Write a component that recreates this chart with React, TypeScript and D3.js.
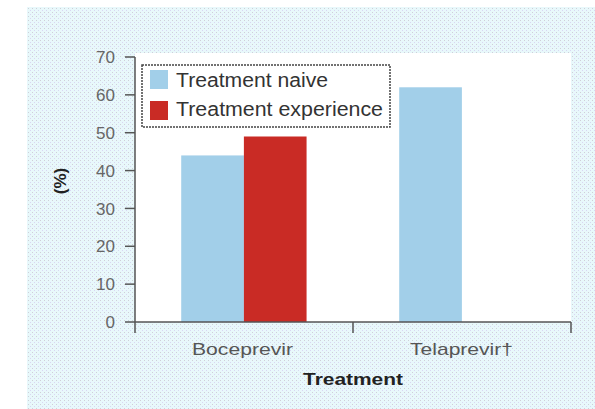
import React from "react";
import * as d3 from "d3";

const categories = ["Boceprevir", "Telaprevir\u2020"];
const seriesNames = ["Treatment naive", "Treatment experience"];
const naiveValues = [44, 62];
const experienceValues: (number | null)[] = [49, null];
const yTicks = [0, 10, 20, 30, 40, 50, 60, 70];
const colors = ["#a2cfe9", "#c92b25"];

const W = 595;
const H = 409;
const plotLeft = 135;
const plotRight = 571;
const plotTop = 53;
const plotBottom = 322;

export default function App() {
  const x0 = d3.scaleBand<string>().domain(categories).range([plotLeft, plotRight]).padding(0);
  const bw = x0.bandwidth();
  const x1 = d3
    .scaleBand<string>()
    .domain(seriesNames)
    .range([bw * 0.212, bw * 0.787])
    .padding(0);
  const y = d3.scaleLinear().domain([0, 70]).range([plotBottom, 57]);

  const seriesData = [naiveValues, experienceValues];

  const bars: React.ReactNode[] = [];
  categories.forEach((c, ci) => {
    seriesNames.forEach((s, si) => {
      const v = seriesData[si][ci];
      if (v == null) return;
      bars.push(
        <rect
          key={c + s}
          x={(x0(c) as number) + (x1(s) as number)}
          y={y(v)}
          width={x1.bandwidth()}
          height={y(0) - y(v)}
          fill={colors[si]}
        />
      );
    });
  });

  const xTickPositions = [plotLeft, (x0(categories[1]) as number), plotRight];

  return (
    <svg
      width={W}
      height={H}
      style={{ position: "absolute", left: 0, top: 0 }}
      fontFamily="'Liberation Sans', Arial, sans-serif"
    >
      <defs>
        <pattern id="bgpat" width="4" height="4" patternUnits="userSpaceOnUse">
          <rect width="4" height="4" fill="#e8f8fb" />
          <rect x="0" y="0" width="1" height="1" fill="#cfd0d8" />
          <rect x="2" y="2" width="1" height="1" fill="#d9d6f3" />
        </pattern>
      </defs>
      <rect x={0} y={0} width={W} height={H} fill="#fff" />
      <rect x={27} y={7} width={W - 27} height={H - 7} fill="url(#bgpat)" />
      <rect x={plotLeft} y={plotTop} width={plotRight - plotLeft} height={plotBottom - plotTop} fill="#fff" />

      {bars}

      {/* y axis */}
      <line x1={plotLeft} x2={plotLeft} y1={y(70)} y2={plotBottom} stroke="#555" strokeWidth={1.5} />
      {yTicks.map((t) => (
        <g key={t}>
          <line x1={plotLeft - 10} x2={plotLeft} y1={y(t)} y2={y(t)} stroke="#555" strokeWidth={1.5} />
          <text x={115} y={y(t)} dy="0.36em" textAnchor="end" fontSize={17} fill="#666">
            {t}
          </text>
        </g>
      ))}

      {/* x axis */}
      <line x1={plotLeft} x2={plotRight} y1={plotBottom} y2={plotBottom} stroke="#555" strokeWidth={1.5} />
      {xTickPositions.map((px, i) => (
        <line key={i} x1={px} x2={px} y1={plotBottom} y2={plotBottom + 11} stroke="#555" strokeWidth={1.5} />
      ))}
      <text x={192} y={355} fontSize={17} fill="#555" textLength={101} lengthAdjust="spacingAndGlyphs">
        {categories[0]}
      </text>
      <text x={410} y={355} fontSize={17} fill="#555" textLength={103} lengthAdjust="spacingAndGlyphs">
        {categories[1]}
      </text>
      <text x={303} y={385} fontSize={17} fontWeight="bold" fill="#222" textLength={100} lengthAdjust="spacingAndGlyphs">
        Treatment
      </text>
      <text
        transform="translate(66,181) rotate(-90)"
        textAnchor="middle"
        fontSize={17}
        fontWeight="bold"
        fill="#222"
      >
        (%)
      </text>

      {/* legend */}
      <rect x={142} y={65} width={248} height={62} fill="#fff" stroke="#444" strokeWidth={1.5} strokeDasharray="2,1" />
      <rect x={150} y={70} width={18} height={19} fill={colors[0]} />
      <rect x={150} y={101} width={18} height={19} fill={colors[1]} />
      <text x={176} y={87} fontSize={20} fill="#333" textLength={152} lengthAdjust="spacingAndGlyphs">
        {seriesNames[0]}
      </text>
      <text x={176} y={116} fontSize={20} fill="#333" textLength={207} lengthAdjust="spacingAndGlyphs">
        {seriesNames[1]}
      </text>
    </svg>
  );
}
